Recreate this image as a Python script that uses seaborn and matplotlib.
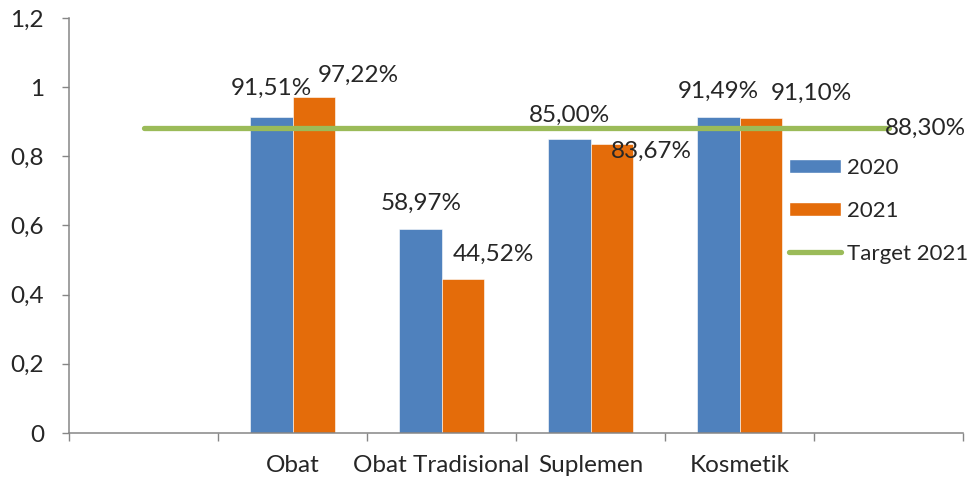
import numpy as np
import pandas as pd
import seaborn as sns
import matplotlib.pyplot as plt
from matplotlib.patches import Patch
from matplotlib.lines import Line2D
from matplotlib.ticker import FixedLocator, FuncFormatter

# data
categories = ["Obat", "Obat Tradisional", "Suplemen", "Kosmetik"]
slots = [""] + categories + [" "]          # excel axis has empty first/last slot
val_2020 = [0.9151, 0.5897, 0.8500, 0.9149]
val_2021 = [0.9722, 0.4452, 0.8367, 0.9110]
target_2021 = [0.883, 0.883, 0.883, 0.883, 0.883, 0.883]
years = ["2020", "2021"]

# label offsets in pixels (dx, dy) from bar top centre, as dragged in the original
off_2020 = [(0, 28), (1, 26), (0, 24), (0, 25)]
off_2021 = [(45, 21), (31, 25), (40, -8), (51, 25)]

blue = "#4F81BD"
orange = "#E46C0A"
green = "#9BBB59"
axis_grey = "#868686"

sns.set_style("white")
plt.rcParams["font.family"] = ["Lato", "DejaVu Sans"]
fs = 17.5
legend_fs = 16

df = pd.DataFrame({
    "cat": categories * 2,
    "year": [years[0]] * 4 + [years[1]] * 4,
    "val": val_2020 + val_2021,
})

fig = plt.figure(figsize=(9.67, 4.82), dpi=100)
ax = fig.add_axes([69 / 967, 1 - 433 / 482, (963 - 69) / 967, (433 - 18) / 482])

sns.barplot(data=df, x="cat", y="val", hue="year", order=slots, hue_order=years,
            palette=[blue, orange], width=0.565, gap=0, saturation=1,
            edgecolor="white", linewidth=0.4, legend=False, ax=ax)

xpos = np.arange(len(slots))
sns.lineplot(x=xpos, y=target_2021, color=green, linewidth=3.8, ax=ax)
for ln in ax.lines:
    ln.set_solid_capstyle("round")

# value labels
w = 0.565 / 2
for i, (v, (dx, dy)) in enumerate(zip(val_2020, off_2020)):
    ax.annotate(f"{v * 100:.2f}%".replace(".", ","), (i + 1 - w / 2, v),
                xytext=(dx, dy), textcoords="offset pixels",
                ha="center", va="center", fontsize=fs)
for i, (v, (dx, dy)) in enumerate(zip(val_2021, off_2021)):
    ax.annotate(f"{v * 100:.2f}%".replace(".", ","), (i + 1 + w / 2, v),
                xytext=(dx, dy), textcoords="offset pixels",
                ha="center", va="center", fontsize=fs)
ax.annotate(f"{target_2021[-1] * 100:.2f}%".replace(".", ","),
            (xpos[-1], target_2021[-1]), xytext=(37, -1), textcoords="offset pixels",
            ha="center", va="center", fontsize=fs)

# axes
ax.set_xlim(-0.5, len(slots) - 0.5)
ax.set_ylim(0, 1.2)
ax.set_yticks(np.arange(0, 1.21, 0.2))
ax.yaxis.set_major_formatter(FuncFormatter(lambda v, p: f"{v:.1f}".rstrip("0").rstrip(".").replace(".", ",")))
ax.set_xticks(xpos)
ax.set_xticklabels(slots)
ax.xaxis.set_minor_locator(FixedLocator(np.arange(-0.5, len(slots), 1.0)))
ax.tick_params(axis="x", which="major", length=0, pad=16, labelsize=fs)
ax.tick_params(axis="x", which="minor", length=6, width=1, color=axis_grey, direction="out", bottom=True)
ax.tick_params(axis="y", length=5, width=1, color=axis_grey, direction="out", pad=13, labelsize=fs, left=True)
ax.set_xlabel("")
ax.set_ylabel("")
for s in ["top", "right"]:
    ax.spines[s].set_visible(False)
for s in ["left", "bottom"]:
    ax.spines[s].set_color(axis_grey)
    ax.spines[s].set_linewidth(1.1)

handles = [Patch(facecolor=blue, label="2020"),
           Patch(facecolor=orange, label="2021"),
           Line2D([0], [0], color=green, linewidth=3.8, solid_capstyle="round", label="Target 2021")]
fig.legend(handles=handles, loc="upper left", bbox_to_anchor=(789 / 967, 1 - 158 / 482),
           frameon=False, fontsize=legend_fs, borderpad=0, borderaxespad=0,
           handlelength=2.34, handleheight=0.63, handletextpad=0.27, labelspacing=1.03)

fig.savefig("out.png", dpi=100)
